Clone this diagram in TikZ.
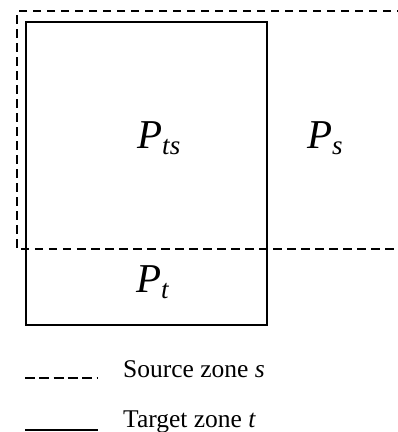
\documentclass[tikz,border=0pt]{standalone}
\usepackage{fontspec}
\setmainfont{Liberation Serif}
\begin{document}
\begin{tikzpicture}[x=1pt,y=-1pt,
  zonedash/.style={line width=1.5pt,dash pattern=on 8.5pt off 5.5pt},
  zonesolid/.style={line width=1.9pt},
  biglabel/.style={inner sep=0pt,anchor=base west,font=\fontsize{41}{41}\selectfont},
  legtext/.style={inner sep=0pt,anchor=base west,font=\fontsize{25.5}{25.5}\selectfont}]
\useasboundingbox (0,0) rectangle (398,432);
\clip (0,0) rectangle (398,432);
% source zone (dashed)
\draw[zonedash] (405,11) -- (17,11) -- (17,249) -- (405,249);
% target zone (solid)
\draw[zonesolid] (26,22) rectangle (267,325);
% labels
\node[biglabel] (pts) at (137,148) {\textit{P}\raisebox{-6pt}{\fontsize{27}{27}\selectfont\textit{ts}}};
\node[biglabel] (ps) at (307,148) {\textit{P}\raisebox{-6pt}{\fontsize{27}{27}\selectfont\textit{s}}};
\node[biglabel] (pt) at (136,292) {\textit{P}\raisebox{-6pt}{\fontsize{27}{27}\selectfont\textit{t}}};
% legend
\coordinate (ls1) at (25,378);
\coordinate (ls2) at (98,378);
\coordinate (lt1) at (25,430);
\coordinate (lt2) at (98,430);
\draw[zonedash,dash pattern=on 10pt off 4.3pt] (ls1) -- (ls2);
\draw[zonesolid] (lt1) -- (lt2);
\node[legtext] (src) at (123,377) {Source zone \textit{s}};
\node[legtext] (tgt) at (123,427) {Target zone \textit{t}};
\end{tikzpicture}
\end{document}
